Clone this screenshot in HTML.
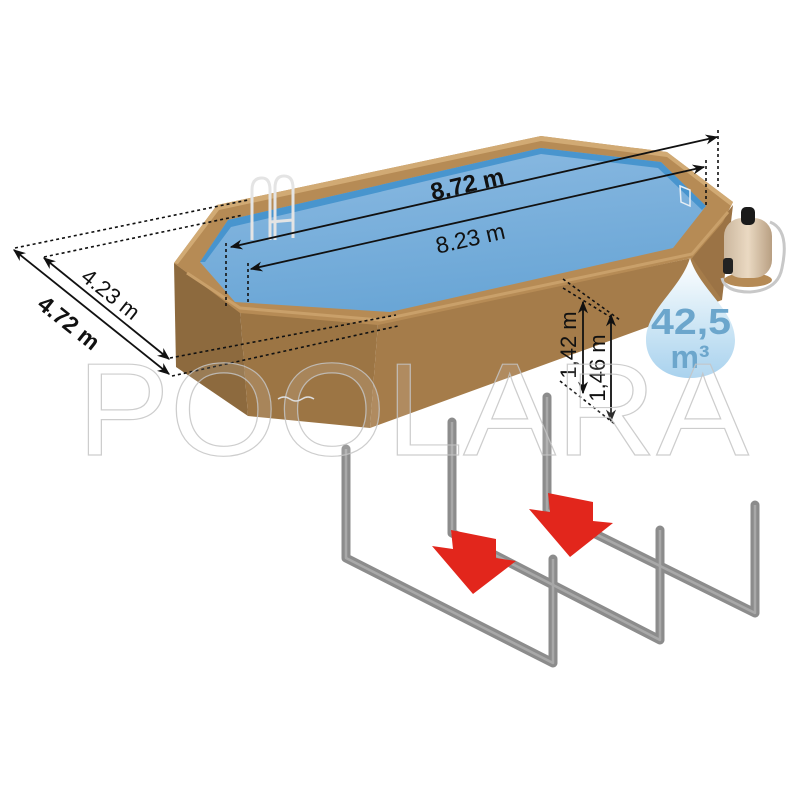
<!DOCTYPE html>
<html><head><meta charset="utf-8"><style>
html,body{margin:0;padding:0;background:#fff;}
svg{display:block;}
text{font-family:"Liberation Sans",sans-serif;}
</style></head><body>
<svg width="800" height="800" viewBox="0 0 800 800" xmlns="http://www.w3.org/2000/svg">
<defs>
<linearGradient id="water" x1="0" y1="0" x2="0.3" y2="1">
<stop offset="0" stop-color="#8dbbe2"/><stop offset="1" stop-color="#6aa6d6"/></linearGradient>
<linearGradient id="drop" x1="0" y1="0" x2="0" y2="1">
<stop offset="0" stop-color="#ffffff"/><stop offset="0.5" stop-color="#d3e9f6"/><stop offset="1" stop-color="#a9d2ee"/></linearGradient>
<linearGradient id="pump" x1="0" y1="0" x2="1" y2="0">
<stop offset="0" stop-color="#cbb79e"/><stop offset="0.5" stop-color="#ead9c2"/><stop offset="1" stop-color="#b89f82"/></linearGradient>
<marker id="ah" viewBox="0 0 10 10" refX="9" refY="5" markerWidth="7" markerHeight="7" orient="auto-start-reverse">
<path d="M0,1 L10,5 L0,9 L3,5 z" fill="#111"/></marker>
</defs>

<!-- bars -->
<g fill="none" stroke="#8c8c8c" stroke-width="9" stroke-linejoin="round" stroke-linecap="round">
<polyline points="547,397 547,510 755,613 755,505"/>
<polyline points="452,422 452,533 660,640 660,530"/>
<polyline points="346,449 346,558 553,663 553,559"/>
</g>
<g fill="none" stroke="#b0b0b0" stroke-width="2.5" stroke-linejoin="round" opacity="0.8">
<polyline points="547,397 547,510 755,613 755,505"/>
<polyline points="452,422 452,533 660,640 660,530"/>
<polyline points="346,449 346,558 553,663 553,559"/>
</g>
<!-- red arrows -->
<polygon points="548,493 593,502 593,521 613,523 570,557 529,509 550,512" fill="#e2261c"/>
<polygon points="451,530 496,539 496,558 516,561 473,594 432,546 453,549" fill="#e2261c"/>

<!-- pool walls -->
<polygon points="174,263 240,311 248,416 176,367" fill="#8d6a3e"/>
<polygon points="240,311 378,323 370,428 248,416" fill="#9c7544"/>
<polygon points="378,323 692,258 722,225 722,300 370,428" fill="#a57c4a"/>
<polygon points="692,258 733,205 722,300" fill="#9b7345"/>

<!-- rim outer -->
<polygon points="174,263 217,205 541,136 667,152 733,202 723,222 692,258 378,325 240,313" fill="#b68b55"/>
<polygon points="174,263 217,205 541,136 667,152 733,202 731,206 667,157 541,141 219,210 178,264" fill="#d1aa74"/>
<!-- water -->
<polygon points="228,220 541,148 661,162 706,206 673,248 390,312 235,302 200,262" fill="url(#water)"/>
<polygon points="228,220 541,148 661,162 706,206 702,210 658,168 541,154 231,227 205,262 200,262" fill="#3e8fcb" opacity="0.85"/>
<!-- rim front highlight -->
<polyline points="187,273 240,308 380,320 692,254 728,212" fill="none" stroke="#c9a06a" stroke-width="3"/>

<!-- ladder -->
<g fill="none" stroke="#e4e4e4" stroke-width="3">
<path d="M252,240 L252,190 Q252,178 262,178 Q270,178 270,190 L270,240"/>
<path d="M275,240 L275,188 Q275,176 284,176 Q293,176 293,188 L293,238"/>
<line x1="270" y1="222" x2="293" y2="220"/>
</g>
<!-- skimmer -->
<polygon points="680,186 690,190 690,206 681,202" fill="none" stroke="#e8eef4" stroke-width="1.5"/>

<!-- pump -->
<path d="M770,222 Q790,230 782,268 Q778,290 750,292 Q725,292 722,278" fill="none" stroke="#c8c8c8" stroke-width="3"/>
<ellipse cx="748" cy="280" rx="24" ry="7" fill="#b58a55"/>
<rect x="724" y="218" width="48" height="60" rx="18" fill="url(#pump)"/>
<rect x="723" y="258" width="10" height="16" rx="3" fill="#222"/>
<rect x="741" y="207" width="14" height="18" rx="5" fill="#1a1a1a"/>

<!-- drop -->
<path d="M690,258 C700,290 735,310 735,340 C735,362 716,378 690,378 C664,378 646,362 646,340 C646,310 680,290 690,258 z" fill="url(#drop)"/>
<text x="651" y="334" textLength="80" lengthAdjust="spacingAndGlyphs" font-size="36" font-weight="bold" fill="#6ca6cc">42,5</text>
<text x="690" y="368" text-anchor="middle" font-size="32" font-weight="bold" fill="#6ca6cc">m³</text>

<!-- dimension dotted lines -->
<g stroke="#111" stroke-width="1.6" stroke-dasharray="3,3" fill="none">
<line x1="15" y1="248" x2="248" y2="200"/>
<line x1="44" y1="257" x2="243" y2="215"/>
<line x1="170" y1="358" x2="396" y2="315"/>
<line x1="172" y1="376" x2="398" y2="326"/>
<line x1="226" y1="243" x2="226" y2="307"/>
<line x1="248" y1="263" x2="248" y2="302"/>
<line x1="718" y1="130" x2="718" y2="187"/>
<line x1="706" y1="160" x2="706" y2="205"/>
<line x1="563" y1="279" x2="620" y2="320"/>
<line x1="563" y1="288" x2="612" y2="318"/>
<line x1="560" y1="381" x2="616" y2="425"/>
</g>
<!-- arrows -->
<g stroke="#111" stroke-width="1.8" fill="none" marker-start="url(#ah)" marker-end="url(#ah)">
<line x1="231" y1="247" x2="717" y2="137"/>
<line x1="251" y1="269" x2="704" y2="167"/>
<line x1="14" y1="250" x2="169" y2="374"/>
<line x1="44" y1="258" x2="169" y2="359"/>
<line x1="583" y1="302" x2="583" y2="393"/>
<line x1="611" y1="315" x2="611" y2="421"/>
</g>
<text x="0" y="0" transform="translate(469,192) rotate(-12.8)" text-anchor="middle" font-size="24" font-weight="bold" fill="#111">8.72 m</text>
<text x="0" y="0" transform="translate(472,246) rotate(-12.8)" text-anchor="middle" font-size="23" fill="#111">8.23 m</text>
<text x="0" y="0" transform="translate(106,300) rotate(38.5)" text-anchor="middle" font-size="22" fill="#111">4.23 m</text>
<text x="0" y="0" transform="translate(64,329) rotate(38.5)" text-anchor="middle" font-size="23" font-weight="bold" fill="#111">4.72 m</text>
<text x="0" y="0" transform="translate(576,345) rotate(-90)" text-anchor="middle" font-size="22" fill="#111">1,42 m</text>
<text x="0" y="0" transform="translate(605,368) rotate(-90)" text-anchor="middle" font-size="22" fill="#111">1,46 m</text>

<!-- watermark -->
<text x="77" y="455" font-size="132" textLength="672" lengthAdjust="spacingAndGlyphs" fill="#ffffff" fill-opacity="0.12" stroke="#c4c4c4" stroke-width="1.2" stroke-opacity="0.85">POOLARA</text>
<path d="M278,399 q6,-4 12,0 q6,4 12,0 q6,-4 12,0" fill="none" stroke="#ddd" stroke-width="1.5"/>
</svg>
</body></html>
